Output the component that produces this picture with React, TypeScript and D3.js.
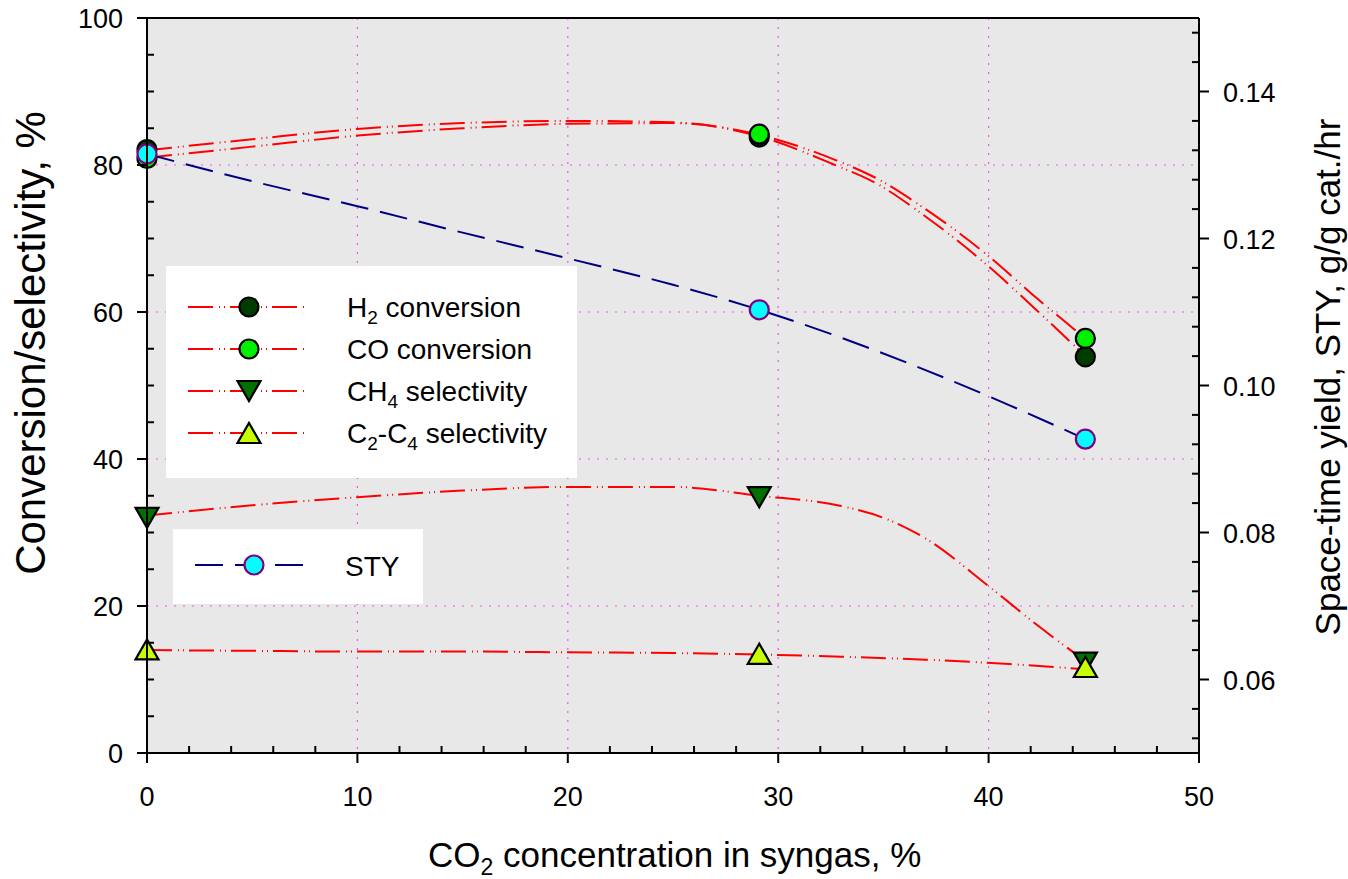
import React from "react"
import * as d3 from "d3"

// measured points
const co2 = [0, 29.1, 44.6]
const h2Conv = [82.1, 83.8, 53.9]
const coConv = [80.9, 84.2, 56.4]
const ch4Sel = [32.0, 34.8, 12.3]
const c2c4Sel = [14.1, 13.5, 11.7]
const sty = [0.1315, 0.1103, 0.0927]

// fitted curves
const fitX = [0, 5, 10, 15, 20, 25, 29.1, 32.7, 34.6, 37, 40, 42, 44.6]
const h2Fit = [82.0, 83.5, 84.9, 85.7, 86.0, 85.8, 83.9, 80.0, 77.6, 73.0, 66.2, 61.0, 54.0]
const coFit = [81.0, 82.5, 84.0, 85.0, 85.6, 85.7, 84.1, 80.7, 78.3, 74.0, 67.6, 62.6, 56.4]
const fitX2 = [0, 5, 10, 15, 20, 25, 29.1, 33, 37, 41, 44.6]
const styFit = [0.1315, 0.1278, 0.1244, 0.1208, 0.1173, 0.1137, 0.1103, 0.1065, 0.1021, 0.0973, 0.0927]
const c2c4Fit = [14.0, 13.9, 13.8, 13.8, 13.7, 13.6, 13.4, 13.1, 12.7, 12.1, 11.4]
const fitX3 = [0, 5, 10, 15, 20, 25, 29.1, 33, 35, 37, 40, 42.4, 44.6]
const ch4Fit = [32.3, 33.7, 34.8, 35.7, 36.2, 36.2, 35.0, 33.6, 32.0, 29.2, 22.7, 17.2, 12.5]

const xTicks = [0, 10, 20, 30, 40, 50]
const yTicks = [0, 20, 40, 60, 80, 100]
const styTicks = [0.06, 0.08, 0.1, 0.12, 0.14]

const font = "'Liberation Sans', Arial, sans-serif"
const RED_DASH = "25,6,1,4,1,5"
const NAVY_DASH = "28,12"

const L = 147, R = 1199, T = 18, B = 753

const x = d3.scaleLinear().domain([0, 50]).range([L, R])
const y = d3.scaleLinear().domain([0, 100]).range([B, T])
const y2 = d3.scaleLinear().domain([0.05, 0.15]).range([B, T])

function Circle({ cx, cy, fill, stroke = "#000" }) {
  return <circle cx={cx} cy={cy} r={9.5} fill={fill} stroke={stroke} strokeWidth={2.2} />
}

function Tri({ cx, cy, fill, down = false }) {
  const w = 11.5, h = 10
  const pts = down
    ? [[cx - w, cy - h], [cx + w, cy - h], [cx, cy + h]]
    : [[cx - w, cy + h], [cx + w, cy + h], [cx, cy - h]]
  return <polygon points={pts.map(p => p.join(",")).join(" ")} fill={fill} stroke="#000" strokeWidth={2.2} strokeLinejoin="miter" />
}

export default function App() {
  const line = d3.line<number>().curve(d3.curveMonotoneX)
  const path = (xs, ys, sc) => line(xs.map((v, i) => [x(v), sc(ys[i])]) as any)

  const xMinor = d3.range(0, 50.01, 2).filter(v => v % 10 !== 0)
  const yMinor = d3.range(0, 100.01, 5).filter(v => v % 20 !== 0)
  const y2Minor = d3.range(0.052, 0.1481, 0.004).filter(v => Math.abs(Math.round(v * 50) - v * 50) > 0.01)

  const legendRows = [
    { y: 307, kind: "c", fill: "#003c00", label: ["H", "2", " conversion"] },
    { y: 349, kind: "c", fill: "#00f000", label: ["CO conversion", "", ""] },
    { y: 391, kind: "d", fill: "#007000", label: ["CH", "4", " selectivity"] },
    { y: 433, kind: "u", fill: "#c8ff00", label: ["C", "2", "-C"], tail: ["4", " selectivity"] },
  ]

  return (
    <svg width={1348} height={879} style={{ position: "absolute", left: 0, top: 0, background: "#fff" }}>
      <rect x={L} y={T} width={R - L} height={B - T} fill="#e8e8e8" />

      {/* grid */}
      <g stroke="#ff00ff" strokeWidth={1.2} strokeDasharray="2,7" opacity={0.65}>
        {[10, 20, 30, 40].map(v => <line key={"gx" + v} x1={x(v)} x2={x(v)} y1={T} y2={B} />)}
        {[20, 40, 60, 80].map(v => <line key={"gy" + v} x1={L} x2={R} y1={y(v)} y2={y(v)} />)}
      </g>

      {/* curves */}
      <g fill="none" strokeWidth={2}>
        <path d={path(fitX, h2Fit, y)} stroke="#ff0000" strokeDasharray={RED_DASH} />
        <path d={path(fitX, coFit, y)} stroke="#ff0000" strokeDasharray={RED_DASH} />
        <path d={path(fitX3, ch4Fit, y)} stroke="#ff0000" strokeDasharray={RED_DASH} />
        <path d={path(fitX2, c2c4Fit, y)} stroke="#ff0000" strokeDasharray={RED_DASH} />
        <path d={path(fitX2, styFit, y2)} stroke="#000080" strokeDasharray={NAVY_DASH} />
      </g>

      {/* legends */}
      <rect x={166} y={266} width={411} height={212} fill="#fff" />
      {legendRows.map((r, i) => (
        <g key={i}>
          <line x1={188} x2={308} y1={r.y} y2={r.y} stroke="#ff0000" strokeWidth={2} strokeDasharray={RED_DASH} />
          {r.kind === "c" && <Circle cx={249} cy={r.y} fill={r.fill} />}
          {r.kind === "d" && <Tri cx={249} cy={r.y} fill={r.fill} down />}
          {r.kind === "u" && <Tri cx={249} cy={r.y} fill={r.fill} />}
          <text x={347} y={r.y + 10} fontSize={28} fontFamily={font}>
            {r.label[0]}
            {r.label[1] && <tspan fontSize={19} dy={7}>{r.label[1]}</tspan>}
            {r.label[1] && <tspan dy={-7}>{r.label[2]}</tspan>}
            {r.tail && <tspan fontSize={19} dy={7}>{r.tail[0]}</tspan>}
            {r.tail && <tspan dy={-7}>{r.tail[1]}</tspan>}
          </text>
        </g>
      ))}
      <rect x={173} y={529} width={250} height={75} fill="#fff" />
      <line x1={195} x2={305} y1={565} y2={565} stroke="#000080" strokeWidth={2} strokeDasharray={NAVY_DASH} />
      <Circle cx={254} cy={565} fill="#00ffff" stroke="#800080" />
      <text x={345} y={576} fontSize={28} fontFamily={font}>STY</text>

      {/* markers */}
      {co2.map((v, i) => <Circle key={"h" + i} cx={x(v)} cy={y(h2Conv[i])} fill="#003c00" />)}
      {co2.map((v, i) => <Circle key={"c" + i} cx={x(v)} cy={y(coConv[i])} fill="#00f000" />)}
      {co2.map((v, i) => <Tri key={"m" + i} cx={x(v)} cy={y(ch4Sel[i])} fill="#007000" down />)}
      {co2.map((v, i) => <Tri key={"s" + i} cx={x(v)} cy={y(c2c4Sel[i])} fill="#c8ff00" />)}
      {co2.map((v, i) => <Circle key={"t" + i} cx={x(v)} cy={y2(sty[i])} fill="#00ffff" stroke="#800080" />)}

      {/* axes */}
      <g stroke="#000" strokeWidth={2}>
        <line x1={L - 10} x2={R} y1={T} y2={T} />
        <line x1={L - 10} x2={R} y1={B} y2={B} />
        <line x1={L} x2={L} y1={T} y2={B + 10} />
        <line x1={R} x2={R} y1={T} y2={B + 10} />
        {xTicks.map(v => <line key={"xt" + v} x1={x(v)} x2={x(v)} y1={B} y2={B + 10} />)}
        {xMinor.map(v => <line key={"xm" + v} x1={x(v)} x2={x(v)} y1={B} y2={B - 7} />)}
        {yTicks.map(v => <line key={"yt" + v} x1={L - 10} x2={L} y1={y(v)} y2={y(v)} />)}
        {yMinor.map(v => <line key={"ym" + v} x1={L} x2={L + 7} y1={y(v)} y2={y(v)} />)}
        {styTicks.map(v => <line key={"rt" + v} x1={R} x2={R + 10} y1={y2(v)} y2={y2(v)} />)}
        {y2Minor.map(v => <line key={"rm" + v} x1={R} x2={R - 7} y1={y2(v)} y2={y2(v)} />)}
      </g>

      <g fontFamily={font} fontSize={27} fill="#000">
        {xTicks.map(v => <text key={"xl" + v} x={x(v)} y={806} textAnchor="middle">{v}</text>)}
        {yTicks.map(v => <text key={"yl" + v} x={123} y={y(v) + 10} textAnchor="end">{v}</text>)}
        {styTicks.map(v => <text key={"rl" + v} x={1223} y={y2(v) + 10}>{d3.format(".2f")(v)}</text>)}
      </g>

      <text x={428} y={867} fontSize={35} fontFamily={font}>
        CO<tspan fontSize={23} dy={8}>2</tspan><tspan dy={-8}> concentration in syngas, %</tspan>
      </text>
      <text transform="translate(45,343) rotate(-90)" textAnchor="middle" fontSize={42} fontFamily={font}>
        Conversion/selectivity, %
      </text>
      <text transform="translate(1340,377) rotate(-90)" textAnchor="middle" fontSize={35} fontFamily={font}>
        Space-time yield, STY, g/g cat./hr
      </text>
    </svg>
  )
}
